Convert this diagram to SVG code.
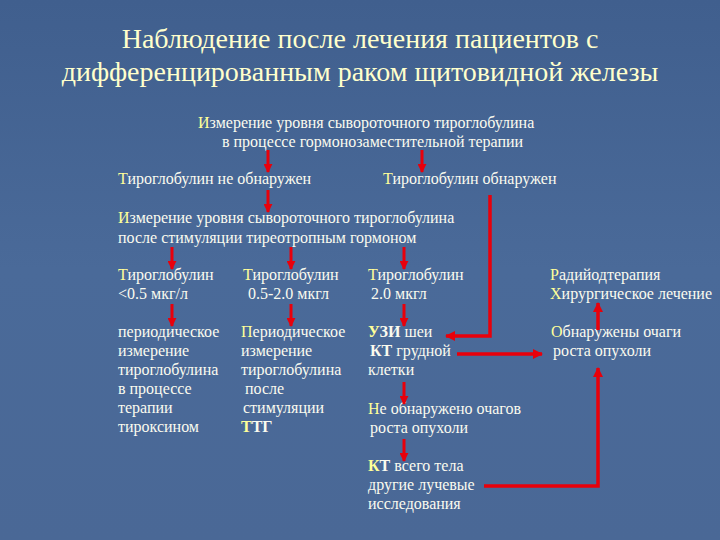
<svg xmlns="http://www.w3.org/2000/svg" width="720" height="540" viewBox="0 0 720 540">
<defs>
<linearGradient id="bg" x1="0" y1="0" x2="0" y2="1">
<stop offset="0" stop-color="#405f8e"/>
<stop offset="0.5" stop-color="#4a6a99"/>
<stop offset="1" stop-color="#4a6896"/>
</linearGradient>
<marker id="ah" viewBox="0 0 10 10" refX="9" refY="5" markerWidth="10" markerHeight="10" markerUnits="userSpaceOnUse" orient="auto">
<path d="M0,0 L10,5 L0,10 Z" fill="#e8000b"/>
</marker>
<marker id="ahs" viewBox="0 0 10 10" refX="9" refY="5" markerWidth="9" markerHeight="9" markerUnits="userSpaceOnUse" orient="auto">
<path d="M0,0 L10,5 L0,10 Z" fill="#e8000b"/>
</marker>
</defs>
<style>
.t{font-family:"Liberation Serif",serif;font-size:16px;fill:#fbfbef}
.y{fill:#ffff99}
.b{font-weight:bold}
.title{font-family:"Liberation Serif",serif;font-size:28px;fill:#ffffcc;text-anchor:middle}
.a{stroke:#e8000b;stroke-width:3;fill:none;marker-end:url(#ahs)}
.A{stroke:#e8000b;stroke-width:3.5;fill:none;marker-end:url(#ah)}
</style>
<rect width="720" height="540" fill="url(#bg)"/>
<g id="title">
<text class="title" x="360" y="48">Наблюдение после лечения пациентов с</text>
<text class="title" x="360" y="81">дифференцированным раком щитовидной железы</text>
</g>
<g id="n1">
<text class="t" x="198" y="128"><tspan class="y">И</tspan>змерение уровня сывороточного тироглобулина</text>
<text class="t" x="222" y="147">в процессе гормонозаместительной терапии</text>
</g>
<g id="n2"><text class="t" x="118" y="184"><tspan class="y">Т</tspan>ироглобулин не обнаружен</text></g>
<g id="n3"><text class="t" x="383" y="184"><tspan class="y">Т</tspan>ироглобулин обнаружен</text></g>
<g id="n4">
<text class="t" x="118" y="223"><tspan class="y">И</tspan>змерение уровня сывороточного тироглобулина</text>
<text class="t" x="118" y="243">после стимуляции тиреотропным гормоном</text>
</g>
<g id="n5">
<text class="t" x="118" y="280"><tspan class="y">Т</tspan>ироглобулин</text>
<text class="t" x="118" y="299">&lt;0.5 мкг/л</text>
</g>
<g id="n6">
<text class="t" x="243" y="280"><tspan class="y">Т</tspan>ироглобулин</text>
<text class="t" x="248" y="299">0.5-2.0 мкгл</text>
</g>
<g id="n7">
<text class="t" x="368" y="280"><tspan class="y">Т</tspan>ироглобулин</text>
<text class="t" x="371" y="299">2.0 мкгл</text>
</g>
<g id="n8">
<text class="t" x="550" y="280"><tspan class="y">Р</tspan>адийодтерапия</text>
<text class="t" x="550" y="299"><tspan class="y">Х</tspan>ирургическое лечение</text>
</g>
<g id="n9">
<text class="t" x="118" y="337">периодическое</text>
<text class="t" x="118" y="356">измерение</text>
<text class="t" x="118" y="375">тироглобулина</text>
<text class="t" x="118" y="394">в процессе</text>
<text class="t" x="118" y="413">терапии</text>
<text class="t" x="118" y="432">тироксином</text>
</g>
<g id="n10">
<text class="t" x="241" y="337"><tspan class="y">П</tspan>ериодическое</text>
<text class="t" x="241" y="356">измерение</text>
<text class="t" x="241" y="375">тироглобулина</text>
<text class="t" x="245" y="394">после</text>
<text class="t" x="243" y="413">стимуляции</text>
<text class="t b" x="241" y="432"><tspan class="y">Т</tspan>ТГ</text>
</g>
<g id="n11">
<text class="t" x="368" y="337"><tspan class="b y">У</tspan><tspan class="b">ЗИ</tspan> шеи</text>
<text class="t" x="370" y="356"><tspan class="b">КТ</tspan> грудной</text>
<text class="t" x="368" y="375">клетки</text>
</g>
<g id="n12">
<text class="t" x="551" y="337"><tspan class="y">О</tspan>бнаружены очаги</text>
<text class="t" x="553" y="356">роста опухоли</text>
</g>
<g id="n13">
<text class="t" x="368" y="414"><tspan class="y">Н</tspan>е обнаружено очагов</text>
<text class="t" x="370" y="433">роста опухоли</text>
</g>
<g id="n14">
<text class="t" x="368" y="471"><tspan class="b y">К</tspan><tspan class="b">Т</tspan> всего тела</text>
<text class="t" x="368" y="490">другие лучевые</text>
<text class="t" x="368" y="509">исследования</text>
</g>
<g id="connectors">
<path class="a" d="M268,150 V172"/>
<path class="a" d="M422,150 V172"/>
<path class="a" d="M268,190 V212"/>
<path class="A" d="M490,195 V336 H446"/>
<path class="a" d="M172,247 V269"/>
<path class="a" d="M291,247 V269"/>
<path class="a" d="M404,247 V269"/>
<path class="a" d="M172,304 V326"/>
<path class="a" d="M291,304 V326"/>
<path class="a" d="M404,304 V326"/>
<path class="A" d="M457,354 H542"/>
<path class="A" d="M598,330 V303"/>
<path class="a" d="M404,382 V404"/>
<path class="a" d="M404,439 V461"/>
<path class="A" d="M484,486 H598 V368"/>
</g>
</svg>
